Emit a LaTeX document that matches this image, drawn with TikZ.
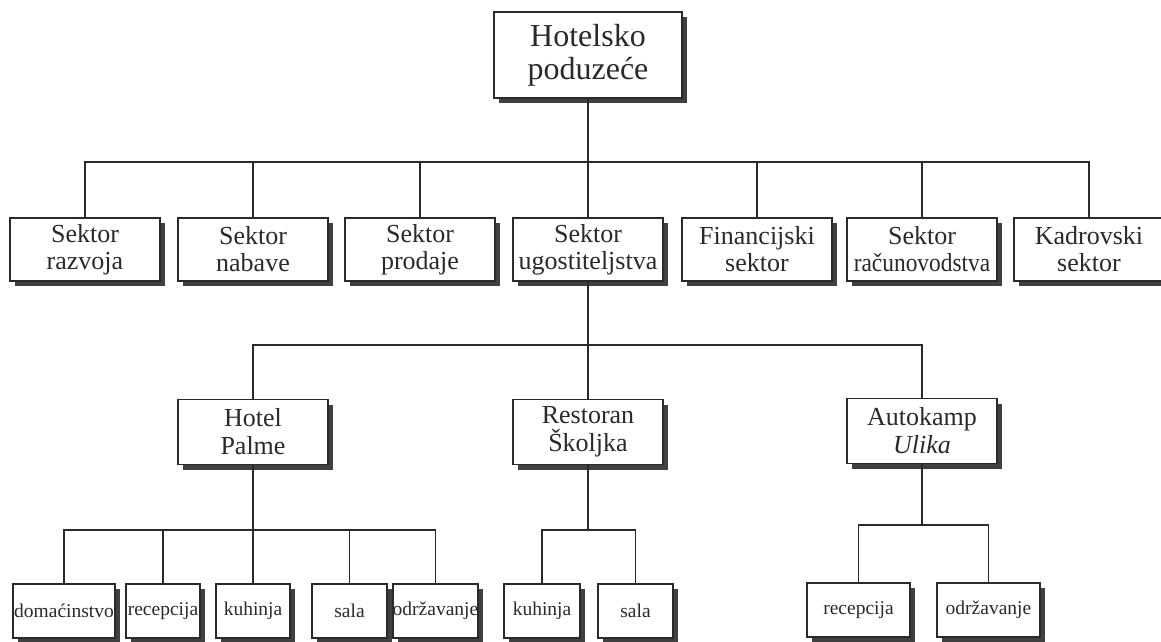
\documentclass[tikz,border=0pt]{standalone}
\usepackage{fontspec}
\setmainfont{Liberation Serif}
\usetikzlibrary{shadows}
\definecolor{ink}{HTML}{2A2A2A}
\definecolor{shade}{HTML}{404040}
\tikzset{
  box/.style={draw=ink, line width=1.8pt, fill=white, inner sep=0pt, align=center,
    text=ink, drop shadow={shadow xshift=5pt, shadow yshift=-5pt, fill=shade, opacity=1}},
  topbox/.style={box, minimum width=188pt, minimum height=86pt, font=\fontsize{32}{33}\selectfont},
  secbox/.style={box, minimum width=150pt, minimum height=63pt, font=\fontsize{26}{27}\selectfont},
  unitbox/.style={box, minimum width=150pt, minimum height=65pt, font=\fontsize{26}{28}\selectfont},
  leafbox/.style={box, minimum height=54pt, font=\fontsize{19.5}{20}\selectfont},
  link/.style={draw=ink, line width=1.8pt}
}
\begin{document}
\begin{tikzpicture}[x=1pt,y=-1pt]
\useasboundingbox (0,0) rectangle (1161,641);
% top
\node[topbox] (top) at (588,55) {Hotelsko\\poduzeće};
% sectors
\node[secbox] (s1) at (85,249.5) {Sektor\\razvoja};
\node[secbox] (s2) at (253,249.5) {Sektor\\nabave};
\node[secbox] (s3) at (420,249.5) {Sektor\\prodaje};
\node[secbox] (s4) at (588,249.5) {Sektor\\ugostiteljstva};
\node[secbox] (s5) at (757,249.5) {Financijski\\sektor};
\node[secbox] (s6) at (922,249.5) {Sektor\\\scalebox{0.9}[1]{računovodstva}};
\node[secbox] (s7) at (1089,249.5) {Kadrovski\\sektor};
% units
\node[unitbox] (u1) at (253,432) {Hotel\\Palme};
\node[unitbox] (u2) at (588,432) {Restoran\\Školjka};
\node[unitbox] (u3) at (922,431) {Autokamp\\\textit{Ulika}};
% leaves
\node[leafbox, minimum width=102pt] (h1) at (64,611) {domaćinstvo};
\node[leafbox, minimum width=74pt] (h2) at (163,611) {recepcija};
\node[leafbox, minimum width=74pt] (h3) at (253,611) {kuhinja};
\node[leafbox, minimum width=75pt] (h4) at (349.5,611) {sala};
\node[leafbox, minimum width=73pt] (h5) at (435.5,611) {održavanje};
\node[leafbox, minimum width=76pt] (r1) at (542,611) {kuhinja};
\node[leafbox, minimum width=75pt] (r2) at (635.5,611) {sala};
\node[leafbox, minimum width=103pt] (a1) at (858.5,610) {recepcija};
\node[leafbox, minimum width=103pt] (a2) at (988.5,610) {održavanje};
% buses
\coordinate (b0) at (588,162);
\coordinate (b1) at (588,345);
\coordinate (bh) at (253,530);
\coordinate (br) at (588,530);
\coordinate (ba) at (922,525);
\draw[link] (top.south) -- (b0);
\foreach \n in {s1,s2,s3,s4,s5,s6,s7} \draw[link] (b0) -| (\n.north);
\draw[link] (s4.south) -- (b1);
\foreach \n in {u1,u2,u3} \draw[link] (b1) -| (\n.north);
\draw[link] (u1.south) -- (bh);
\foreach \n in {h1,h2,h3,h4,h5} \draw[link] (bh) -| (\n.north);
\draw[link] (u2.south) -- (br);
\foreach \n in {r1,r2} \draw[link] (br) -| (\n.north);
\draw[link] (u3.south) -- (ba);
\foreach \n in {a1,a2} \draw[link] (ba) -| (\n.north);
\end{tikzpicture}
\end{document}
